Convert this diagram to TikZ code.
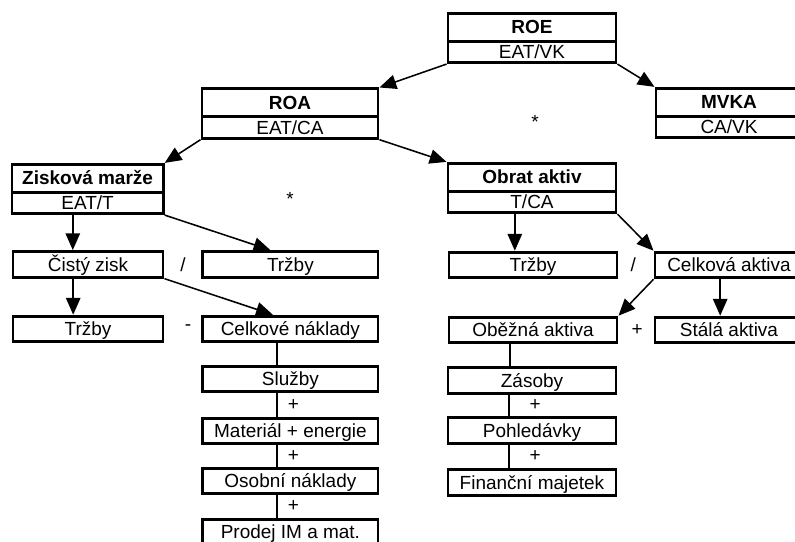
\documentclass[tikz,border=0pt]{standalone}
\usepackage{fontspec}
\setmainfont{Liberation Sans}
\usepackage{tikz}
\usetikzlibrary{positioning,arrows.meta,shapes.multipart}

\begin{document}
\begin{tikzpicture}[
  every node/.style={font=\fontsize{13.5}{16}\selectfont},
  ratio/.style={rectangle split, rectangle split parts=2, draw, line width=2.1pt,
    minimum width=#1, text height=4.2mm, text depth=0.95mm, inner ysep=0.55mm},
  ratio/.default=42mm,
  item/.style={rectangle, draw, line width=2.1pt, minimum width=#1,
    minimum height=6.4mm, text height=3.4mm, text depth=0pt, inner sep=0pt},
  item/.default=42mm,
  arrow/.style={-{Triangle[length=4.2mm,width=3.6mm]}, line width=1.1pt},
  chain/.style={line width=1pt},
  op/.style={inner sep=0pt},
]
\clip (0,0) rectangle (19.875,-13.55);

% === top level ===
\node[ratio] (roe) at (13.3,-0.95) {\textbf{ROE}\nodepart{two}EAT/VK};
\node[ratio=36.5mm] (mvka) at (18.225,-2.825) {\textbf{MVKA}\nodepart{two}CA/VK};
\node[ratio=44mm] (roa) at (7.25,-2.84) {\textbf{ROA}\nodepart{two}EAT/CA};
\node[op] (mul1) at (13.375,-3.05) {*};

\draw[arrow] (roe.south west) -- (roa.north east);
\draw[arrow] (roe.south east) -- (mvka.north west);

% === ROA ===
\node[ratio=37.8mm] (zisk) at (2.19,-4.725) {\textbf{Zisková marže}\nodepart{two}EAT/T};
\node[ratio] (obrat) at (13.3,-4.7) {\textbf{Obrat aktiv}\nodepart{two}T/CA};
\node[op] (mul2) at (7.25,-4.98) {*};

\draw[arrow] (roa.south west) -- (zisk.north east);
\draw[arrow] (roa.south east) -- (obrat.north west);

% === Zisková marže ===
\node[item=37.5mm] (cisty) at (2.2,-6.61) {Čistý zisk};
\node[item=43.8mm] (trzbyA) at (7.26,-6.61) {Tržby};
\node[op] (div1) at (4.575,-6.61) {/};
\node[item=37.5mm] (trzbyB) at (2.2,-8.225) {Tržby};
\node[item=43.8mm] (naklady) at (7.26,-8.225) {Celkové náklady};
\node[op] (minus) at (4.7,-8.2) {-};

\draw[arrow] ([xshift=-3.7mm]zisk.south) -- ([xshift=-3.7mm]zisk.south |- cisty.north);
\draw[arrow] (zisk.south east) -- ([xshift=-5mm]trzbyA.north);
\draw[arrow] ([xshift=-3.7mm]cisty.south) -- ([xshift=-3.7mm]cisty.south |- trzbyB.north);
\draw[arrow] (cisty.south east) -- ([xshift=-4.4mm]naklady.north);

% cost items
\node[item=43.8mm] (sluzby) at (7.26,-9.475) {Služby};
\node[item=43.8mm] (material) at (7.26,-10.775) {Materiál + energie};
\node[item=43.8mm] (osobni) at (7.26,-12.025) {Osobní náklady};
\node[item=43.8mm] (prodej) at (7.26,-13.3) {Prodej IM a mat.};

\draw[chain] ([xshift=-3.3mm]naklady.south) -- ([xshift=-3.3mm]naklady.south |- sluzby.north);
\draw[chain] ([xshift=-3.3mm]sluzby.south) -- ([xshift=-3.3mm]sluzby.south |- material.north)
  node[op, midway, right=2.5mm] {+};
\draw[chain] ([xshift=-3.3mm]material.south) -- ([xshift=-3.3mm]material.south |- osobni.north)
  node[op, midway, right=2.5mm] {+};
\draw[chain] ([xshift=-3.3mm]osobni.south) -- ([xshift=-3.3mm]osobni.south |- prodej.north)
  node[op, midway, right=2.5mm] {+};

% === Obrat aktiv ===
\node[item] (trzbyC) at (13.325,-6.625) {Tržby};
\node[item=37mm] (celkova) at (18.225,-6.625) {Celková aktiva};
\node[op] (div2) at (15.83,-6.625) {/};
\node[item] (obezna) at (13.325,-8.25) {Oběžná aktiva};
\node[item=37mm] (stala) at (18.225,-8.25) {Stálá aktiva};
\node[op] (plus) at (15.93,-8.25) {+};

\draw[arrow] ([xshift=-4.3mm]obrat.south) -- ([xshift=-4.3mm]obrat.south |- trzbyC.north);
\draw[arrow] (obrat.south east) -- (celkova.north west);
\draw[arrow] (celkova.south west) -- (obezna.north east);
\draw[arrow] ([xshift=-2.2mm]celkova.south) -- ([xshift=-2.2mm]celkova.south |- stala.north);

% asset items
\node[item] (zasoby) at (13.3,-9.51) {Zásoby};
\node[item] (pohledavky) at (13.3,-10.76) {Pohledávky};
\node[item] (financni) at (13.3,-12.06) {Finanční majetek};

\draw[chain] ([xshift=-5.8mm]obezna.south) -- ([xshift=-5.8mm]obezna.south |- zasoby.north);
\draw[chain] ([xshift=-5.8mm]zasoby.south) -- ([xshift=-5.8mm]zasoby.south |- pohledavky.north)
  node[op, midway, right=5mm] {+};
\draw[chain] ([xshift=-5.8mm]pohledavky.south) -- ([xshift=-5.8mm]pohledavky.south |- financni.north)
  node[op, midway, right=5mm] {+};
\end{tikzpicture}
\end{document}
